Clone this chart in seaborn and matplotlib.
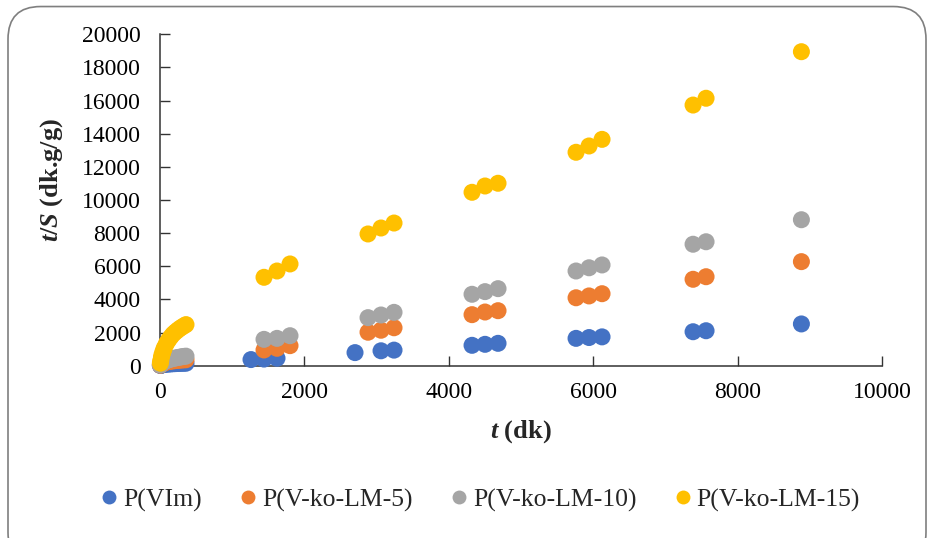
import numpy as np
import pandas as pd
import seaborn as sns
import matplotlib
matplotlib.use("Agg")
import matplotlib.pyplot as plt
from matplotlib.lines import Line2D
from matplotlib.patches import FancyBboxPatch

# ---------------- data ----------------
series_names = ["P(VIm)", "P(V-ko-LM-5)", "P(V-ko-LM-10)", "P(V-ko-LM-15)"]
colors = ["#4472C4", "#ED7D31", "#A5A5A5", "#FFC000"]

t_early = [5, 10, 20, 30, 45, 60, 90, 120, 150, 180, 210, 240, 270, 300, 330, 360]

t_blue_late = [1260, 1440, 1620, 2700, 3060, 3240, 4320, 4500, 4680, 5760, 5940, 6120, 7380, 7560, 8880]
t_other_late = [1440, 1620, 1800, 2880, 3060, 3240, 4320, 4500, 4680, 5760, 5940, 6120, 7380, 7560, 8880]

blue_early = [15, 25, 40, 50, 65, 75, 90, 100, 110, 120, 125, 135, 140, 145, 150, 150]
orange_early = [30, 55, 90, 120, 150, 180, 220, 250, 270, 290, 305, 320, 335, 345, 355, 360]
gray_early = [40, 70, 120, 160, 210, 250, 310, 360, 400, 430, 460, 490, 510, 540, 560, 575]
yellow_early = [150, 300, 520, 700, 900, 1080, 1350, 1560, 1740, 1900, 2020, 2130, 2230, 2320, 2400, 2480]

blue_late = [370, 400, 450, 790, 900, 940, 1230, 1290, 1350, 1650, 1700, 1740, 2050, 2110, 2520]
orange_late = [950, 1050, 1210, 2020, 2140, 2290, 3080, 3240, 3320, 4100, 4210, 4345, 5215, 5370, 6280]
gray_late = [1590, 1650, 1810, 2900, 3060, 3220, 4310, 4470, 4650, 5715, 5910, 6080, 7330, 7480, 8810]
yellow_late = [5335, 5715, 6140, 7950, 8310, 8610, 10465, 10845, 11010, 12880, 13260, 13660, 15730, 16140, 18950]

x_ticks = [0, 2000, 4000, 6000, 8000, 10000]
y_ticks = [0, 2000, 4000, 6000, 8000, 10000, 12000, 14000, 16000, 18000, 20000]

frames = []
for name, te, ye, tl, yl in [
    (series_names[0], t_early, blue_early, t_blue_late, blue_late),
    (series_names[1], t_early, orange_early, t_other_late, orange_late),
    (series_names[2], t_early, gray_early, t_other_late, gray_late),
    (series_names[3], t_early, yellow_early, t_other_late, yellow_late),
]:
    frames.append(pd.DataFrame({"t": list(te) + list(tl),
                                "tS": list(ye) + list(yl),
                                "series": name}))
df = pd.concat(frames, ignore_index=True)

# ---------------- style ----------------
sns.set_theme(style="white")
plt.rcParams["font.family"] = ["Liberation Serif", "DejaVu Serif"]
plt.rcParams["mathtext.fontset"] = "custom"
plt.rcParams["mathtext.it"] = "Liberation Serif:italic:bold"
plt.rcParams["mathtext.rm"] = "Liberation Serif:bold"
plt.rcParams["mathtext.bf"] = "Liberation Serif:bold"

W, H = 932, 538
fig = plt.figure(figsize=(W / 100, H / 100), dpi=100)
fig.patch.set_facecolor("white")

x0, x1 = 160, 882.3
y0, y1 = 365.7, 34.3
ax = fig.add_axes([x0 / W, 1 - y0 / H, (x1 - x0) / W, (y0 - y1) / H])

sns.scatterplot(data=df, x="t", y="tS", hue="series", hue_order=series_names,
                palette=colors, s=150, linewidth=0, alpha=1.0, legend=False,
                ax=ax, clip_on=False, zorder=3)

ax.set_xlim(0, 10000)
ax.set_ylim(0, 20000)
ax.set_xticks(x_ticks)
ax.set_yticks(y_ticks)
ax.set_xticklabels([str(v) for v in x_ticks])
ax.set_yticklabels([str(v) for v in y_ticks])
ax.tick_params(axis="both", direction="in", length=7, width=1, color="#333333",
               labelsize=17, labelcolor="black")
ax.tick_params(axis="x", pad=12)
ax.tick_params(axis="y", pad=14)
ax.tick_params(axis="both", left=True, bottom=True)
for side in ["top", "right"]:
    ax.spines[side].set_visible(False)
for side in ["left", "bottom"]:
    ax.spines[side].set_color("#333333")
    ax.spines[side].set_linewidth(1.1)
ax.grid(False)
ax.set_xlabel("")
ax.set_ylabel("")

fig.text(52 / W, 1 - 180 / H, r"$t/S$ (dk.g/g)", rotation=90, ha="center", va="center",
         fontsize=19, fontweight="bold")
fig.text(521 / W, 1 - 432 / H, r"$t$ (dk)", ha="center", va="center",
         fontsize=19, fontweight="bold")

handles = [Line2D([0], [0], marker="o", linestyle="", markersize=10,
                  markerfacecolor=c, markeredgewidth=0) for c in colors]
fig.legend(handles, series_names, loc="center", ncol=4,
           bbox_to_anchor=(478 / W, 1 - 500 / H), frameon=False,
           fontsize=18.5, handletextpad=0.05, columnspacing=1.3, handlelength=1.0)

border = FancyBboxPatch((8 / W, -0.05), (W - 14) / W, (H - 6) / H + 0.05 - 0.001,
                        boxstyle="round,pad=0,rounding_size=0.035",
                        transform=fig.transFigure, fill=False,
                        edgecolor="#7f7f7f", linewidth=1.2, mutation_aspect=W / H)
fig.patches.append(border)

fig.savefig("out.png", dpi=100, facecolor="white")
